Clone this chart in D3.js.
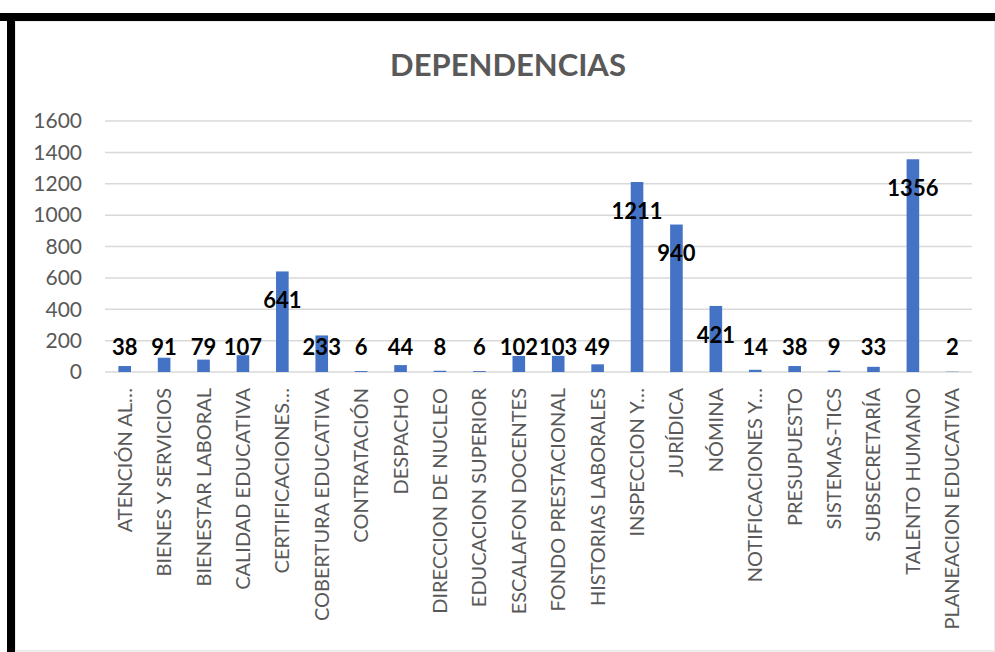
<!DOCTYPE html>
<html>
<head>
<meta charset="utf-8">
<script src="https://d3js.org/d3.v7.min.js"></script>
<style>
  body { margin: 0; background: #fff; }
  text { font-family: Lato, "Open Sans", sans-serif; }
</style>
</head>
<body>
<script>

// data
var categories = ["ATENCIÓN AL…", "BIENES Y SERVICIOS", "BIENESTAR LABORAL", "CALIDAD EDUCATIVA",
  "CERTIFICACIONES…", "COBERTURA EDUCATIVA", "CONTRATACIÓN", "DESPACHO", "DIRECCION DE NUCLEO",
  "EDUCACION SUPERIOR", "ESCALAFON DOCENTES", "FONDO PRESTACIONAL", "HISTORIAS LABORALES",
  "INSPECCION Y…", "JURÍDICA", "NÓMINA", "NOTIFICACIONES Y…", "PRESUPUESTO", "SISTEMAS-TICS",
  "SUBSECRETARÍA", "TALENTO HUMANO", "PLANEACION EDUCATIVA"];
var values = [38, 91, 79, 107, 641, 233, 6, 44, 8, 6, 102, 103, 49, 1211, 940, 421, 14, 38, 9, 33, 1356, 2];
var yTicks = [0, 200, 400, 600, 800, 1000, 1200, 1400, 1600];

var width = 995, height = 652;
var plotLeft = 105, plotRight = 972, plotTop = 121, plotBottom = 372;

var svg = d3.select("body").append("svg").attr("width", width).attr("height", height);

// frame
svg.append("rect").attr("x", 15).attr("y", 21).attr("width", width - 15).attr("height", 630)
  .attr("fill", "#fff").attr("stroke", "#d9d9d9").attr("stroke-width", 1);
svg.append("rect").attr("x", 0).attr("y", 13).attr("width", width).attr("height", 8).attr("fill", "#000");
svg.append("rect").attr("x", 7).attr("y", 13).attr("width", 8).attr("height", height - 13).attr("fill", "#000");

var x = d3.scaleBand().domain(categories).range([plotLeft, plotRight]).paddingInner(0.68).paddingOuter(0.34);
var y = d3.scaleLinear().domain([0, 1600]).range([plotBottom, plotTop]);

// grid
svg.append("g").selectAll("line").data(yTicks).enter().append("line")
  .attr("x1", plotLeft).attr("x2", plotRight)
  .attr("y1", function(d){ return y(d) }).attr("y2", function(d){ return y(d) })
  .attr("stroke", "#d9d9d9").attr("stroke-width", 1.5);

// y labels
svg.append("g").selectAll("text").data(yTicks).enter().append("text")
  .attr("x", 82).attr("y", function(d){ return y(d) })
  .attr("dy", "0.35em").attr("text-anchor", "end")
  .attr("fill", "#595959").style("font-size", "21px")
  .text(function(d){ return d });

// bars
svg.append("g").selectAll("rect").data(values).enter().append("rect")
  .attr("x", function(d, i){ return x(categories[i]) })
  .attr("y", function(d){ return y(d) })
  .attr("width", x.bandwidth())
  .attr("height", function(d){ return y(0) - y(d) })
  .attr("fill", "#4472c4");

// value labels
svg.append("g").selectAll("text").data(values).enter().append("text")
  .attr("x", function(d, i){ return x(categories[i]) + x.bandwidth() / 2 })
  .attr("y", function(d){ return Math.min(y(d) + 29, y(0) - 25) })
  .attr("dy", "0.35em").attr("text-anchor", "middle")
  .attr("fill", "#000").style("font-size", "22px").style("font-weight", "bold")
  .text(function(d){ return d });

// category labels
svg.append("g").selectAll("text").data(categories).enter().append("text")
  .attr("transform", function(d){ return "translate(" + (x(d) + x.bandwidth() / 2) + ",388) rotate(-90)" })
  .attr("dy", "0.35em").attr("text-anchor", "end")
  .attr("fill", "#595959").style("font-size", "20px")
  .text(function(d){ return d });

// title
svg.append("text").attr("x", 508).attr("y", 65).attr("dy", "0.35em")
  .attr("text-anchor", "middle").attr("fill", "#595959")
  .style("font-size", "31px").style("font-weight", "bold")
  .text("DEPENDENCIAS");

</script>
</body>
</html>
